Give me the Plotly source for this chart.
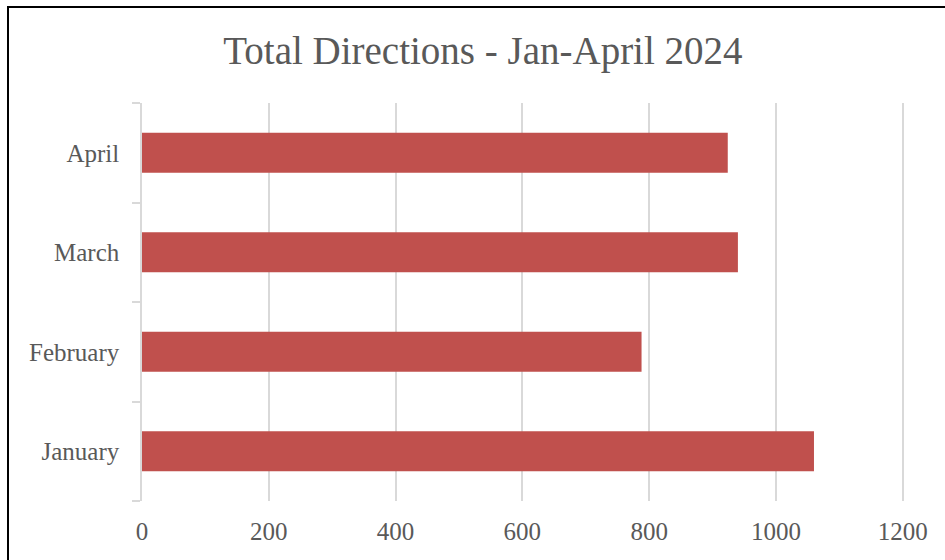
import plotly.graph_objects as go

months = ["January", "February", "March", "April"]
directions = [1060, 788, 940, 924]
x_ticks = [0, 200, 400, 600, 800, 1000, 1200]

FONT = "Liberation Serif, 'DejaVu Serif', serif"
GRAY = "#595959"
GRID = "#D9D9D9"

fig = go.Figure(
    go.Bar(
        y=months,
        x=directions,
        orientation="h",
        marker=dict(color="#C0504D", line=dict(width=0)),
        hoverinfo="x+y",
    )
)

fig.update_layout(
    width=945,
    height=560,
    margin=dict(l=142, r=41, t=103, b=59),
    paper_bgcolor="white",
    plot_bgcolor="white",
    bargap=0.6,
    showlegend=False,
    title=dict(
        text="Total Directions - Jan-April 2024",
        font=dict(family=FONT, size=39, color=GRAY),
        x=0.511,
        xanchor="center",
        xref="container",
        y=1 - 50 / 560,
        yanchor="middle",
        yref="container",
    ),
    xaxis=dict(
        range=[0, 1202],
        tickvals=x_ticks,
        ticktext=[str(v) for v in x_ticks],
        showgrid=True,
        gridcolor=GRID,
        gridwidth=1.5,
        zeroline=False,
        showline=False,
        ticks="",
        ticklabelstandoff=13,
        tickfont=dict(family=FONT, size=25, color=GRAY),
        fixedrange=True,
    ),
    yaxis=dict(
        categoryorder="array",
        categoryarray=months,
        showgrid=False,
        zeroline=False,
        showline=True,
        linecolor=GRID,
        linewidth=1.5,
        ticks="outside",
        tickson="boundaries",
        ticklen=8,
        tickcolor=GRID,
        tickwidth=1.5,
        ticklabelstandoff=16,
        tickfont=dict(family=FONT, size=25, color=GRAY),
        fixedrange=True,
    ),
    shapes=[
        dict(
            type="rect",
            xref="paper",
            yref="paper",
            x0=(8 - 142) / 762,
            x1=1.2,
            y0=-0.3,
            y1=(501 - 7) / 398,
            line=dict(color="black", width=2),
            fillcolor="rgba(0,0,0,0)",
            layer="above",
        )
    ],
)

fig.write_html("out.html")
